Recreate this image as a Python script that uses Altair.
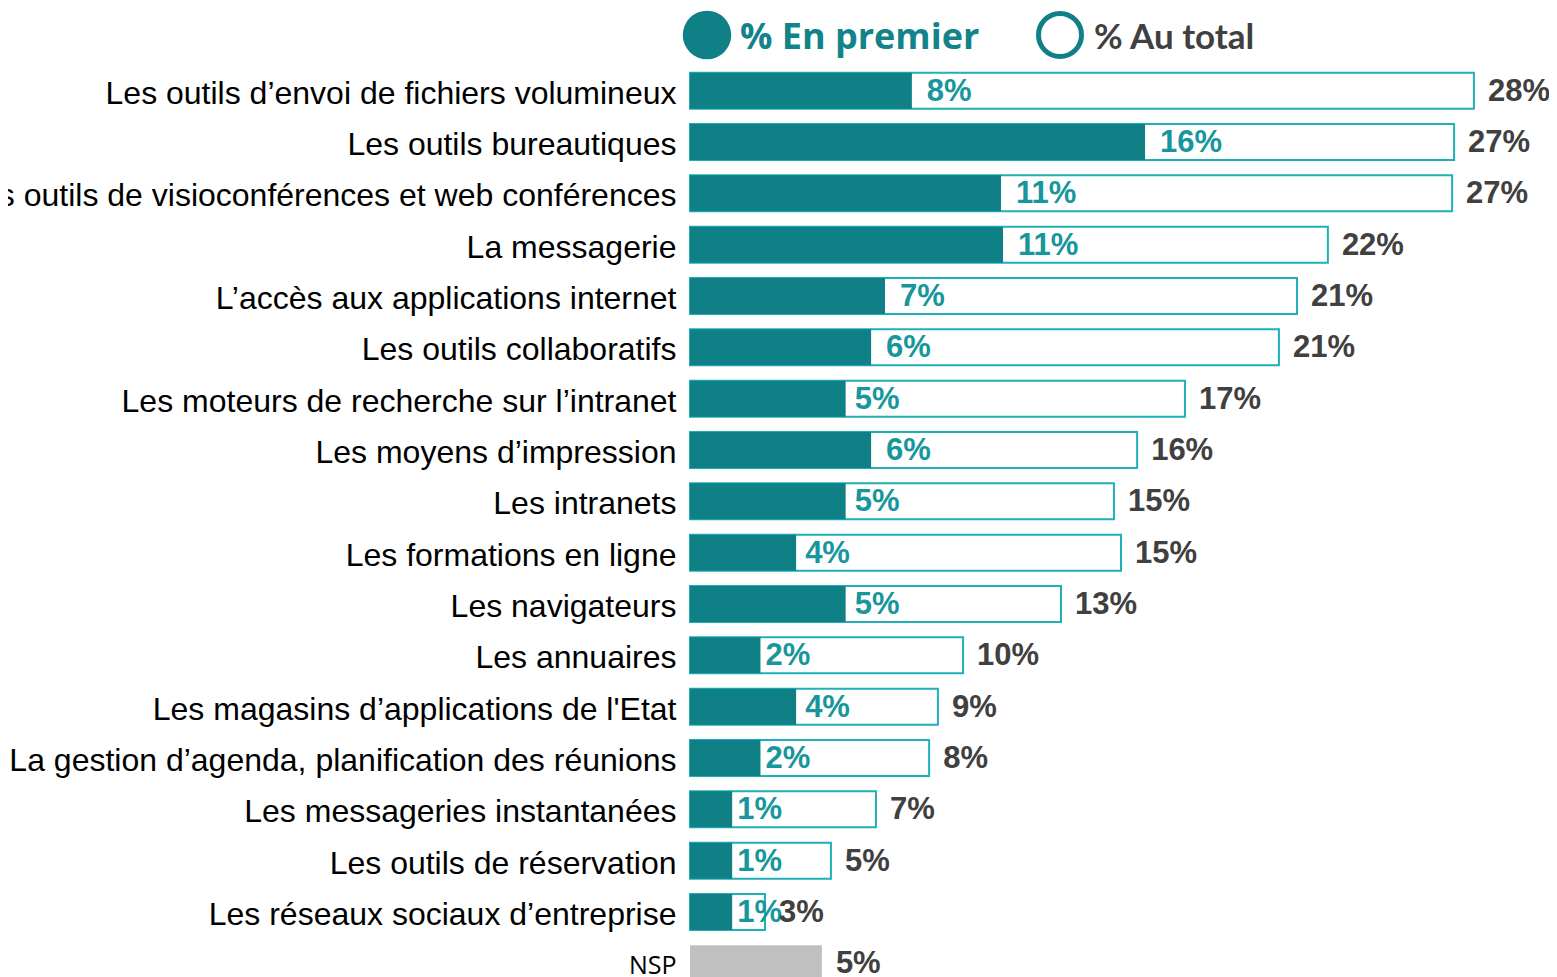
import altair as alt
import pandas as pd

categories = [
    "Les outils d\u2019envoi de fichiers volumineux",
    "Les outils bureautiques",
    "Les outils de visioconf\u00e9rences et web conf\u00e9rences",
    "La messagerie",
    "L\u2019acc\u00e8s aux applications internet",
    "Les outils collaboratifs",
    "Les moteurs de recherche sur l\u2019intranet",
    "Les moyens d\u2019impression",
    "Les intranets",
    "Les formations en ligne",
    "Les navigateurs",
    "Les annuaires",
    "Les magasins d\u2019applications de l'Etat",
    "La gestion d\u2019agenda, planification des r\u00e9unions",
    "Les messageries instantan\u00e9es",
    "Les outils de r\u00e9servation",
    "Les r\u00e9seaux sociaux d\u2019entreprise",
    "NSP",
]
first_values = [7.84, 16.08, 10.99, 11.06, 6.89, 6.40, 5.50, 6.40, 5.50, 3.75,
                5.50, 2.49, 3.75, 2.49, 1.49, 1.49, 1.49, None]
first_labels = ["8%", "16%", "11%", "11%", "7%", "6%", "5%", "6%", "5%", "4%",
                "5%", "2%", "4%", "2%", "1%", "1%", "1%", None]
total_values = [27.70, 27.00, 26.93, 22.54, 21.45, 20.81, 17.49, 15.80, 14.98, 15.23,
                13.11, 9.65, 8.76, 8.45, 6.57, 4.98, 2.65, 4.66]
total_labels = ["28%", "27%", "27%", "22%", "21%", "21%", "17%", "16%", "15%", "15%",
                "13%", "10%", "9%", "8%", "7%", "5%", "3%", "5%"]
legend_labels = ["% En premier", "% Au total"]

df = pd.DataFrame({
    "cat": categories,
    "first": first_values,
    "flabel": first_labels,
    "total": total_values,
    "tlabel": total_labels,
})

TEAL_DARK = "#0f8086"
TEAL_LINE = "#1fb0b8"
TEAL_TEXT = "#17969c"
GREY_TEXT = "#404040"

y_enc = alt.Y(
    "cat:N",
    sort=categories,
    scale=alt.Scale(paddingInner=0.3, paddingOuter=0.15, round=False),
    axis=alt.Axis(
        title=None, domain=False, ticks=False, labelPadding=14, labelLimit=0,
        labelColor="#000000", labelOffset=3,
        labelFont={"condition": {"test": "datum.value === 'NSP'", "value": "Open Sans"}, "value": "Liberation Sans"},
        labelFontSize={"condition": {"test": "datum.value === 'NSP'", "value": 25}, "value": 32},
    ),
)
x_scale = alt.Scale(domain=[0, 30])

base = alt.Chart(df)

total_bars = base.transform_filter("datum.cat !== 'NSP'").mark_bar(
    fill="white", stroke=TEAL_LINE, strokeWidth=2
).encode(x=alt.X("total:Q", scale=x_scale, axis=None), y=y_enc)

nsp_bar = base.transform_filter("datum.cat === 'NSP'").mark_bar(
    color="#c0c0c0"
).encode(x=alt.X("total:Q", scale=x_scale, axis=None), y=y_enc)

first_bars = base.transform_filter("isValid(datum.first)").mark_bar(
    color=TEAL_DARK
).encode(x=alt.X("first:Q", scale=x_scale, axis=None), y=y_enc)


def first_text_layer(test, dx):
    return base.transform_filter("isValid(datum.first)").transform_filter(test).mark_text(
        align="left", baseline="middle", dx=dx, dy=1, font="Liberation Sans",
        fontWeight="bold", fontSize=31, color=TEAL_TEXT
    ).encode(x=alt.X("first:Q", scale=x_scale, axis=None), y=y_enc, text="flabel:N")


first_text_big = first_text_layer("datum.first >= 6", 15)
first_text_mid = first_text_layer("datum.first >= 3 && datum.first < 6", 9)
first_text_small = first_text_layer("datum.first < 3", 5)

total_text = base.mark_text(
    align="left", baseline="middle", dx=14, dy=1, font="Liberation Sans",
    fontWeight="bold", fontSize=31, color=GREY_TEXT
).encode(x=alt.X("total:Q", scale=x_scale, axis=None), y=y_enc, text="tlabel:N")

leg1 = pd.DataFrame({"t": [legend_labels[0]]})
leg2 = pd.DataFrame({"t": [legend_labels[1]]})

leg_dot1 = alt.Chart(leg1).mark_point(
    shape="circle", filled=True, size=2350, color=TEAL_DARK, opacity=1
).encode(x=alt.value(17), y=alt.value(-30))
leg_txt1 = alt.Chart(leg1).mark_text(
    align="left", baseline="alphabetic", font="Open Sans", fontWeight="bold",
    fontSize=36, color="#128389"
).encode(x=alt.value(50), y=alt.value(-16.5), text="t:N")
leg_dot2 = alt.Chart(leg2).mark_point(
    shape="circle", filled=False, size=1850, stroke=TEAL_DARK, strokeWidth=5, opacity=1
).encode(x=alt.value(370), y=alt.value(-30))
leg_txt2 = alt.Chart(leg2).mark_text(
    align="left", baseline="alphabetic", font="Lato", fontWeight="bold",
    fontSize=35, color=GREY_TEXT
).encode(x=alt.value(404), y=alt.value(-16.5), text="t:N")

chart = alt.layer(
    total_bars, nsp_bar, first_bars,
    first_text_big, first_text_mid, first_text_small, total_text,
    leg_dot1, leg_txt1, leg_dot2, leg_txt2,
).properties(
    width=849, height=924,
    autosize="none",
    padding={"left": 682, "top": 57, "right": 10, "bottom": 0},
).configure_view(stroke=None)

chart.save("out.html", embed_options={"renderer": "svg", "actions": False})
